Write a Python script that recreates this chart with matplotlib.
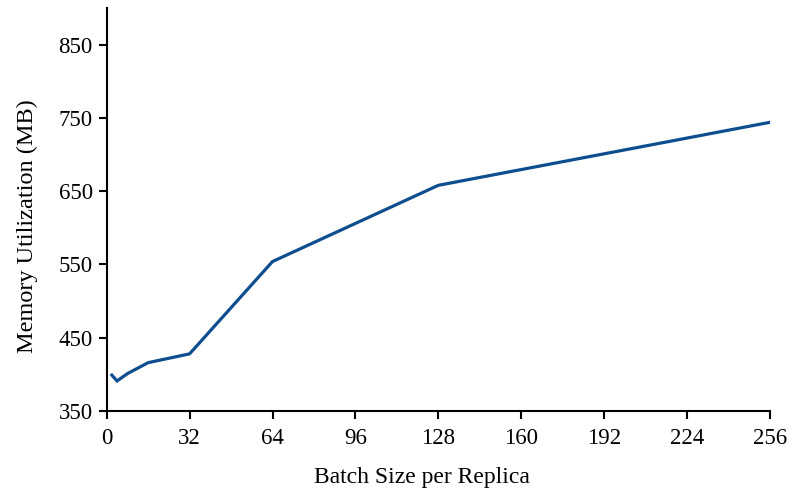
import numpy as np
import matplotlib.pyplot as plt

plt.rcParams['font.family'] = ['Liberation Serif', 'DejaVu Serif']

# batch size vs memory
batch_size = [2, 4, 8, 16, 32, 64, 128, 256]
memory_mb = [399, 391, 401, 416, 428, 554, 658, 744]

xticks = [0, 32, 64, 96, 128, 160, 192, 224, 256]
yticks = [350, 450, 550, 650, 750, 850]

fig = plt.figure(figsize=(7.92, 4.93), dpi=100)
ax = fig.add_axes([0.1347, 0.1663, 0.9722 - 0.1347, 0.9838 - 0.1663])

ax.plot(batch_size, memory_mb, color='#0e4e8e', linewidth=2.3, solid_joinstyle='miter')

ax.set_xlim(0, 256)
ax.set_ylim(350, 900)
ax.set_xticks(xticks)
ax.set_yticks(yticks)

ax.spines['top'].set_visible(False)
ax.spines['right'].set_visible(False)
ax.spines['left'].set_linewidth(1.5)
ax.spines['bottom'].set_linewidth(1.5)
ax.tick_params(width=1.5, length=6, labelsize=16.5, direction='out')
ax.tick_params(axis='x', pad=6)
ax.tick_params(axis='y', pad=4)

ax.set_xlabel('Batch Size per Replica', fontsize=17)
ax.set_ylabel('Memory Utilization (MB)', fontsize=17.5)
# labels sit a bit off-centre in the original
ax.xaxis.set_label_coords(0.475, -0.139)
ax.yaxis.set_label_coords(-0.104, 0.459)

plt.savefig('out.png', dpi=100)
